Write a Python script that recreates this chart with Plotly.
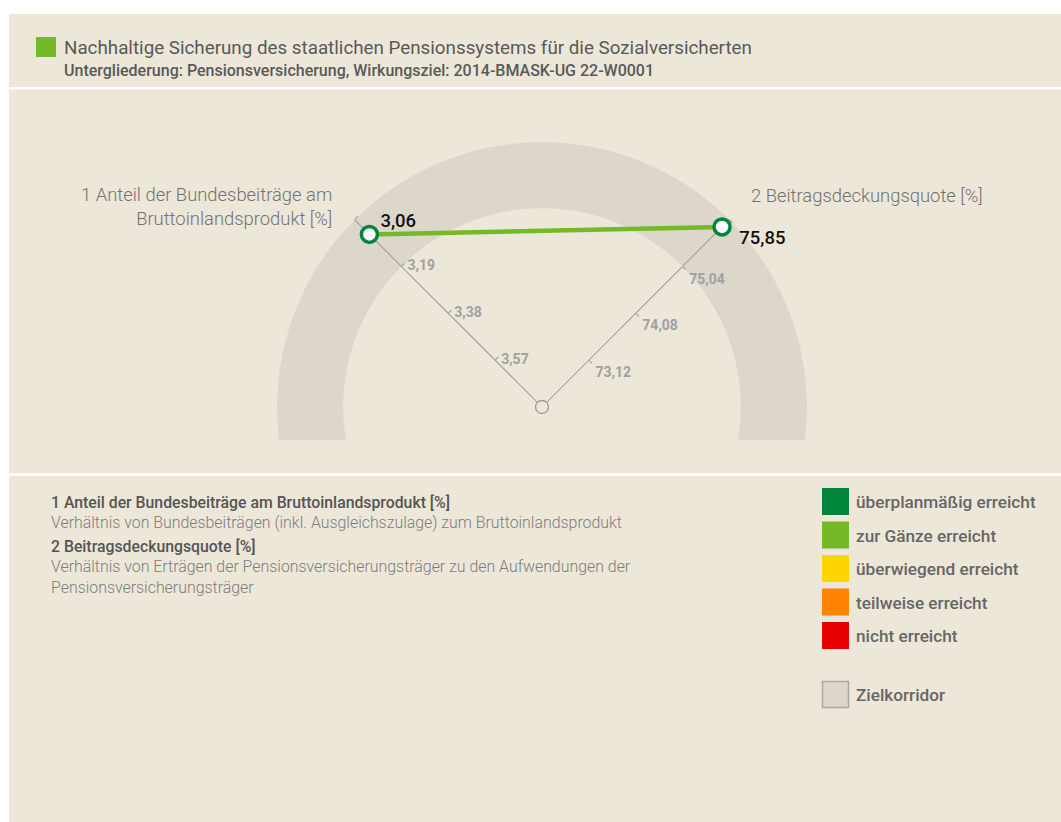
import plotly.graph_objects as go

W, H = 1061, 822

# ---------------- data ----------------
title = "Nachhaltige Sicherung des staatlichen Pensionssystems für die Sozialversicherten"
subtitle = "Untergliederung: Pensionsversicherung, Wirkungsziel: 2014-BMASK-UG 22-W0001"

axis_titles = ["1 Anteil der Bundesbeiträge am<br>Bruttoinlandsprodukt [%]",
               "2 Beitragsdeckungsquote [%]"]
axis_angles = [135, 45]

left_range = [3.76, 3.00]      # centre -> outer end
right_range = [72.16, 76.00]   # centre -> outer end
left_ticks = [3.19, 3.38, 3.57]
right_ticks = [73.12, 74.08, 75.04]
left_value = 3.06
right_value = 75.85
left_corridor = [3.19, 3.00]
right_corridor = [75.04, 76.00]

desc_titles = ["1 Anteil der Bundesbeiträge am Bruttoinlandsprodukt [%]",
               "2 Beitragsdeckungsquote [%]"]
desc_texts = ["Verhältnis von Bundesbeiträgen (inkl. Ausgleichszulage) zum Bruttoinlandsprodukt",
              "Verhältnis von Erträgen der Pensionsversicherungsträger zu den Aufwendungen der<br>Pensionsversicherungsträger"]

legend_labels = ["überplanmäßig erreicht", "zur Gänze erreicht", "überwiegend erreicht",
                 "teilweise erreicht", "nicht erreicht"]
legend_colors = ["#00853a", "#74b928", "#ffd500", "#ff8200", "#e60000"]
corridor_label = "Zielkorridor"

# ---------------- styles ----------------
BEIGE = "#ece7d8"
BAND = "#ddd7cb"
AXIS = "#9a9a9a"
FONT = "Roboto"


def fmt(v):
    return f"{v:.2f}".replace(".", ",")


def px(x):
    return x / W


def py(y):
    return 1 - y / H


cx, cy, R = 542, 407, 265
dom = dict(x=[px(cx - R), px(cx + R)], y=[py(cy + R), py(cy - R)])

fig = go.Figure()

# corridor band (polar, left-axis scale)
thetas = list(range(-12, 193))
band_r = [left_corridor[1]] * len(thetas) + [left_corridor[0]] * len(thetas)
band_t = thetas + thetas[::-1]
fig.add_trace(go.Scatterpolar(r=band_r, theta=band_t, mode="lines", fill="toself",
                              fillcolor=BAND, line=dict(width=0), hoverinfo="skip",
                              subplot="polar", showlegend=False))
# left tick labels
fig.add_trace(go.Scatterpolar(r=left_ticks, theta=[axis_angles[0]] * len(left_ticks),
                              mode="markers+text", text=[fmt(v) for v in left_ticks],
                              textposition="middle right",
                              marker=dict(size=8, color="rgba(0,0,0,0)"),
                              textfont=dict(family=FONT, size=14, color="#a0a0a0", weight=700),
                              subplot="polar", showlegend=False, hoverinfo="skip"))
# right tick labels
fig.add_trace(go.Scatterpolar(r=right_ticks, theta=[axis_angles[1]] * len(right_ticks),
                              mode="markers+text", text=[fmt(v) for v in right_ticks],
                              textposition="bottom right",
                              marker=dict(size=9, color="rgba(0,0,0,0)"),
                              textfont=dict(family=FONT, size=14, color="#a0a0a0", weight=700),
                              subplot="polar2", showlegend=False, hoverinfo="skip"))

# connecting line: right value expressed on the left axis scale
frac2 = (right_value - right_range[0]) / (right_range[1] - right_range[0])
r2_on_left = left_range[0] + frac2 * (left_range[1] - left_range[0])
fig.add_trace(go.Scatterpolar(r=[left_value, r2_on_left], theta=axis_angles,
                              mode="lines", line=dict(color="#74b928", width=4.5),
                              subplot="polar3", showlegend=False, hoverinfo="skip"))
# centre circle
fig.add_trace(go.Scatterpolar(r=[left_range[0]], theta=[0], mode="markers",
                              marker=dict(size=13, color=BEIGE, line=dict(color=AXIS, width=1.3)),
                              subplot="polar3", showlegend=False, hoverinfo="skip",
                              cliponaxis=False))
# left value point + label
fig.add_trace(go.Scatterpolar(r=[left_value], theta=[axis_angles[0]], mode="markers",
                              marker=dict(size=16, color="white", line=dict(color="#00853a", width=3.5)),
                              subplot="polar3", showlegend=False, cliponaxis=False))
fig.add_trace(go.Scatterpolar(r=[left_value], theta=[axis_angles[0]], mode="markers+text",
                              text=[fmt(left_value) + "<br> "], textposition="middle right",
                              marker=dict(size=16, color="rgba(0,0,0,0)"),
                              textfont=dict(family=FONT, size=18.5, color="#111111", weight=500),
                              subplot="polar3", showlegend=False, cliponaxis=False, hoverinfo="skip"))
# right value point + label
fig.add_trace(go.Scatterpolar(r=[right_value], theta=[axis_angles[1]], mode="markers",
                              marker=dict(size=16, color="white", line=dict(color="#00853a", width=3.5)),
                              subplot="polar4", showlegend=False, cliponaxis=False))
fig.add_trace(go.Scatterpolar(r=[right_value], theta=[axis_angles[1]], mode="markers+text",
                              text=[" <br>" + fmt(right_value)], textposition="middle right",
                              marker=dict(size=26, color="rgba(0,0,0,0)"),
                              textfont=dict(family=FONT, size=18.5, color="#111111", weight=500),
                              subplot="polar4", showlegend=False, cliponaxis=False, hoverinfo="skip"))

hidden_ang = dict(visible=False, rotation=0, direction="counterclockwise")


def radial(rng, ang, ticks, show):
    if not show:
        return dict(visible=False, range=rng, angle=ang)
    return dict(visible=True, range=rng, angle=ang, showgrid=False, showline=True,
                linecolor=AXIS, linewidth=1, ticks="outside", ticklen=4, tickwidth=1,
                tickcolor=AXIS, tickvals=[rng[1]] + ticks, showticklabels=False,
                side="clockwise", layer="above traces")


common = dict(domain=dom, bgcolor="rgba(0,0,0,0)", angularaxis=hidden_ang)
fig.update_layout(
    polar=dict(**common, radialaxis=radial(left_range, axis_angles[0], left_ticks, True)),
    polar2=dict(**common, radialaxis=radial(right_range, axis_angles[1], right_ticks, True)),
    polar3=dict(**common, radialaxis=radial(left_range, axis_angles[0], left_ticks, False)),
    polar4=dict(**common, radialaxis=radial(right_range, axis_angles[1], right_ticks, False)),
)

shapes = [
    dict(type="rect", xref="paper", yref="paper", x0=px(9), x1=px(1061), y0=py(87), y1=py(14),
         fillcolor=BEIGE, line=dict(width=0), layer="below"),
    dict(type="rect", xref="paper", yref="paper", x0=px(9), x1=px(1061), y0=py(473), y1=py(89.5),
         fillcolor=BEIGE, line=dict(width=0), layer="below"),
    dict(type="rect", xref="paper", yref="paper", x0=px(9), x1=px(1061), y0=py(822), y1=py(476),
         fillcolor=BEIGE, line=dict(width=0), layer="below"),
    # clip of gauge bottom
    dict(type="rect", xref="paper", yref="paper", x0=px(240), x1=px(840), y0=py(473), y1=py(440),
         fillcolor=BEIGE, line=dict(width=0), layer="above"),
    # title marker
    dict(type="rect", xref="paper", yref="paper", x0=px(36), x1=px(56), y0=py(57), y1=py(37),
         fillcolor="#74b928", line=dict(width=0), layer="above"),
]

annotations = [
    dict(text=title, x=px(62), y=py(47.5), xanchor="left", yanchor="middle", showarrow=False,
         font=dict(family=FONT, size=18.8, color="#595959", weight=400)),
    dict(text=subtitle, x=px(62), y=py(70.5), xanchor="left", yanchor="middle", showarrow=False,
         font=dict(family=FONT, size=16, color="#595959", weight=500)),
    dict(text=axis_titles[0], x=px(334), y=py(206.5), xanchor="right", yanchor="middle", align="right",
         showarrow=False, font=dict(family=FONT, size=18.4, color="#727272", weight=300)),
    dict(text=axis_titles[1], x=px(749), y=py(195), xanchor="left", yanchor="middle",
         showarrow=False, font=dict(family=FONT, size=18.4, color="#727272", weight=300)),
]

desc_y = [(502, 522), (546.5, 577)]
for t, d, (yt, yd) in zip(desc_titles, desc_texts, desc_y):
    annotations.append(dict(text=t, x=px(49), y=py(yt), xanchor="left", yanchor="middle",
                            showarrow=False, font=dict(family=FONT, size=15.8, color="#555555", weight=500)))
    annotations.append(dict(text=d, x=px(49), y=py(yd), xanchor="left", yanchor="middle", align="left",
                            showarrow=False, font=dict(family=FONT, size=15.9, color="#7c7c7c", weight=300)))

leg_tops = [488, 521.5, 555, 588.5, 622]
for lab, col, top in zip(legend_labels, legend_colors, leg_tops):
    shapes.append(dict(type="rect", xref="paper", yref="paper", x0=px(822), x1=px(849),
                       y0=py(top + 27), y1=py(top), fillcolor=col, line=dict(width=0)))
    annotations.append(dict(text=lab, x=px(854), y=py(top + 14), xanchor="left", yanchor="middle",
                            showarrow=False, font=dict(family=FONT, size=17.2, color="#666666", weight=500)))
shapes.append(dict(type="rect", xref="paper", yref="paper", x0=px(822.5), x1=px(848.5),
                   y0=py(707.5), y1=py(681.5), fillcolor=BAND, line=dict(color="#a8a8a8", width=1.5)))
annotations.append(dict(text=corridor_label, x=px(854), y=py(695), xanchor="left", yanchor="middle",
                        showarrow=False, font=dict(family=FONT, size=17.2, color="#666666", weight=500)))

fig.update_layout(width=W, height=H, margin=dict(l=0, r=0, t=0, b=0), autosize=False,
                  paper_bgcolor="white", plot_bgcolor="white", showlegend=False,
                  shapes=shapes, annotations=annotations, font=dict(family=FONT))

fig.write_html("out.html", config={"displayModeBar": False},
               post_script="document.body.style.margin='0px';")
